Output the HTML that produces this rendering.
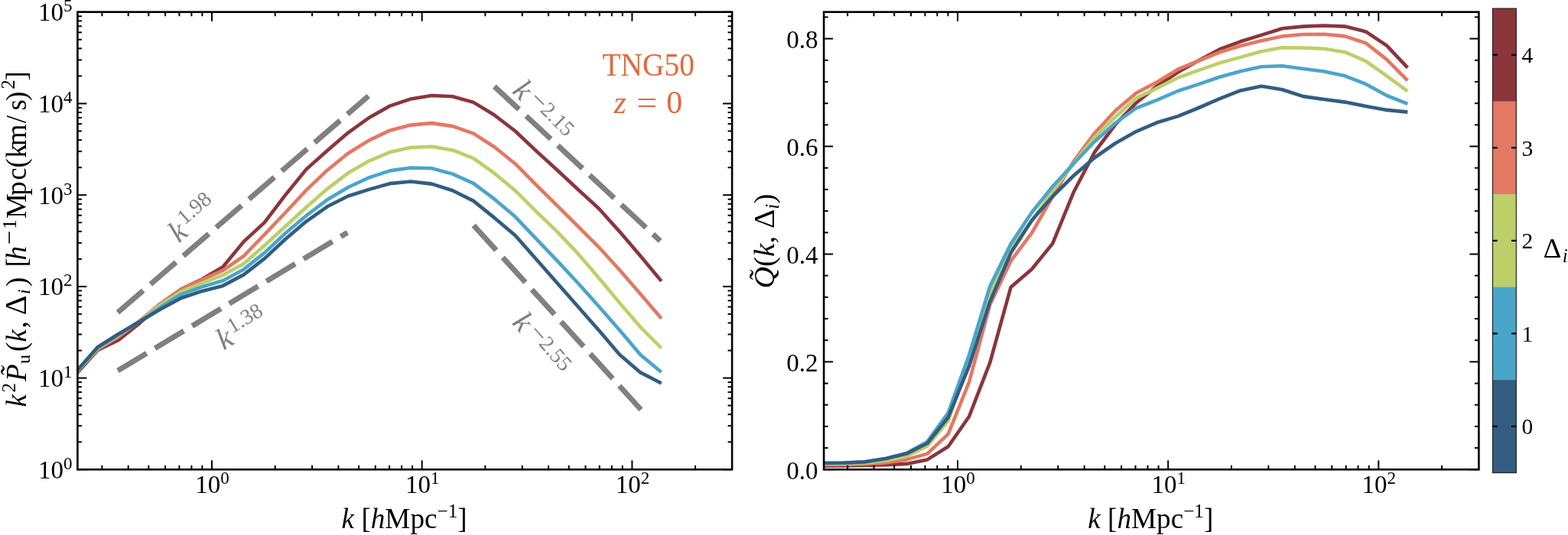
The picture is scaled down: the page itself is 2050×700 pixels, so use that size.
<!DOCTYPE html><html><head><meta charset="utf-8"><title>TNG50 velocity power spectra</title><style>html,body{margin:0;padding:0;background:#fff;}svg{display:block;}text{font-family:"Liberation Serif","DejaVu Serif",serif;}</style></head><body>
<svg width="2050" height="700" viewBox="0 0 2050 700">
<rect width="2050" height="700" fill="#fff"/>
<defs><clipPath id="cl"><rect x="101.4" y="15.7" width="855.7" height="598.6"/></clipPath>
<clipPath id="cr"><rect x="1077.1" y="15.7" width="856.3" height="598.6"/></clipPath></defs>
<g clip-path="url(#cl)">
<polyline points="100.3,488.8 127.6,458.3 154.9,445.0 182.2,423.2 209.5,397.8 236.8,378.3 264.1,365.3 291.4,349.3 318.7,316.1 346.0,290.9 373.3,254.9 400.6,221.4 427.9,197.0 455.2,173.6 482.5,154.0 509.8,138.6 537.1,129.4 564.4,125.0 591.7,126.3 619.0,133.9 646.3,150.5 673.6,171.5 700.9,197.4 728.2,222.3 755.5,247.7 782.8,272.8 810.1,303.1 837.4,335.1 864.7,367.9" fill="none" stroke="#8A363B" stroke-width="4.60" stroke-linejoin="round" stroke-linecap="butt"/>
<polyline points="100.3,487.0 127.6,457.0 154.9,440.7 182.2,420.0 209.5,397.3 236.8,378.6 264.1,365.8 291.4,353.9 318.7,335.0 346.0,306.6 373.3,278.0 400.6,248.6 427.9,222.7 455.2,200.5 482.5,183.6 509.8,170.7 537.1,163.6 564.4,161.1 591.7,165.1 619.0,174.6 646.3,192.2 673.6,214.2 700.9,241.8 728.2,268.9 755.5,296.0 782.8,323.3 810.1,353.3 837.4,384.8 864.7,416.7" fill="none" stroke="#E37863" stroke-width="4.60" stroke-linejoin="round" stroke-linecap="butt"/>
<polyline points="100.3,486.3 127.6,456.0 154.9,438.7 182.2,420.4 209.5,399.0 236.8,381.6 264.1,370.3 291.4,360.0 318.7,344.9 346.0,321.0 373.3,296.0 400.6,271.0 427.9,247.1 455.2,226.3 482.5,210.6 509.8,199.0 537.1,193.1 564.4,191.7 591.7,196.4 619.0,207.2 646.3,226.7 673.6,249.3 700.9,276.6 728.2,302.8 755.5,331.7 782.8,363.6 810.1,396.4 837.4,428.1 864.7,455.5" fill="none" stroke="#BCCF68" stroke-width="4.60" stroke-linejoin="round" stroke-linecap="butt"/>
<polyline points="100.3,485.8 127.6,455.0 154.9,437.7 182.2,420.8 209.5,402.3 236.8,385.3 264.1,375.3 291.4,367.3 318.7,352.4 346.0,330.6 373.3,305.0 400.6,282.0 427.9,261.3 455.2,245.0 482.5,232.4 509.8,223.4 537.1,219.5 564.4,220.3 591.7,227.6 619.0,239.8 646.3,260.4 673.6,283.6 700.9,312.4 728.2,340.9 755.5,370.3 782.8,400.7 810.1,432.1 837.4,464.3 864.7,487.0" fill="none" stroke="#4AA5CB" stroke-width="4.60" stroke-linejoin="round" stroke-linecap="butt"/>
<polyline points="100.3,485.3 127.6,454.3 154.9,437.0 182.2,421.0 209.5,404.7 236.8,390.0 264.1,380.9 291.4,373.9 318.7,359.4 346.0,338.1 373.3,312.7 400.6,289.6 427.9,270.3 455.2,256.5 482.5,247.9 509.8,240.1 537.1,237.5 564.4,240.6 591.7,249.3 619.0,262.9 646.3,284.9 673.6,308.1 700.9,339.1 728.2,370.1 755.5,401.0 782.8,432.1 810.1,463.9 837.4,487.4 864.7,501.5" fill="none" stroke="#325D80" stroke-width="4.60" stroke-linejoin="round" stroke-linecap="butt"/>
<line x1="153.9" y1="408.9" x2="481.7" y2="125.7" stroke="#808080" stroke-width="7.0" stroke-dasharray="44 12.7"/>
<line x1="154.0" y1="485.0" x2="454.3" y2="304.2" stroke="#808080" stroke-width="7.0" stroke-dasharray="44 12.7"/>
<line x1="646.4" y1="113.1" x2="863.2" y2="315.2" stroke="#808080" stroke-width="7.0" stroke-dasharray="44 12.7"/>
<line x1="619.2" y1="294.8" x2="838.0" y2="536.0" stroke="#808080" stroke-width="7.0" stroke-dasharray="44 12.7"/>
</g>
<g clip-path="url(#cr)">
<polyline points="1075.9,609.6 1103.2,609.5 1130.5,609.0 1157.8,608.3 1185.1,606.9 1212.4,601.4 1239.7,584.3 1267.0,545.0 1294.3,474.3 1321.6,375.7 1348.9,352.3 1376.2,318.6 1403.5,251.8 1430.8,199.5 1458.1,163.0 1485.4,134.7 1512.7,112.5 1540.0,94.5 1567.3,79.0 1594.6,64.5 1621.9,54.3 1649.2,45.9 1676.5,37.2 1703.8,34.6 1731.1,33.5 1758.4,34.6 1785.7,41.4 1813.0,59.6 1840.3,88.6" fill="none" stroke="#8A363B" stroke-width="4.60" stroke-linejoin="round" stroke-linecap="butt"/>
<polyline points="1075.9,608.3 1103.2,608.0 1130.5,607.3 1157.8,605.6 1185.1,601.4 1212.4,593.6 1239.7,567.9 1267.0,500.0 1294.3,398.6 1321.6,341.4 1348.9,305.0 1376.2,257.0 1403.5,211.4 1430.8,174.5 1458.1,145.0 1485.4,121.8 1512.7,107.4 1540.0,90.7 1567.3,79.5 1594.6,68.3 1621.9,60.0 1649.2,53.2 1676.5,47.5 1703.8,45.0 1731.1,44.8 1758.4,47.4 1785.7,56.4 1813.0,77.9 1840.3,105.3" fill="none" stroke="#E37863" stroke-width="4.60" stroke-linejoin="round" stroke-linecap="butt"/>
<polyline points="1075.9,607.2 1103.2,606.8 1130.5,605.7 1157.8,602.8 1185.1,597.1 1212.4,583.6 1239.7,550.7 1267.0,472.0 1294.3,384.0 1321.6,325.0 1348.9,289.0 1376.2,249.5 1403.5,214.0 1430.8,180.0 1458.1,153.0 1485.4,128.4 1512.7,115.4 1540.0,101.6 1567.3,91.8 1594.6,82.4 1621.9,74.9 1649.2,67.3 1676.5,62.3 1703.8,62.6 1731.1,63.8 1758.4,68.2 1785.7,80.0 1813.0,99.3 1840.3,119.4" fill="none" stroke="#BCCF68" stroke-width="4.60" stroke-linejoin="round" stroke-linecap="butt"/>
<polyline points="1075.9,606.1 1103.2,605.8 1130.5,604.6 1157.8,600.3 1185.1,593.0 1212.4,577.9 1239.7,540.0 1267.0,464.5 1294.3,374.5 1321.6,319.0 1348.9,278.0 1376.2,244.0 1403.5,214.3 1430.8,185.5 1458.1,161.0 1485.4,141.5 1512.7,130.8 1540.0,119.0 1567.3,110.1 1594.6,100.8 1621.9,93.2 1649.2,87.3 1676.5,86.3 1703.8,90.0 1731.1,93.5 1758.4,99.3 1785.7,110.0 1813.0,125.0 1840.3,135.8" fill="none" stroke="#4AA5CB" stroke-width="4.60" stroke-linejoin="round" stroke-linecap="butt"/>
<polyline points="1075.9,605.7 1103.2,605.5 1130.5,604.2 1157.8,600.0 1185.1,593.6 1212.4,580.0 1239.7,546.0 1267.0,479.0 1294.3,394.6 1321.6,330.8 1348.9,288.5 1376.2,257.0 1403.5,230.0 1430.8,206.5 1458.1,187.5 1485.4,172.1 1512.7,160.3 1540.0,152.1 1567.3,141.0 1594.6,129.2 1621.9,118.4 1649.2,112.8 1676.5,117.2 1703.8,126.1 1731.1,130.0 1758.4,133.6 1785.7,138.9 1813.0,143.9 1840.3,146.6" fill="none" stroke="#325D80" stroke-width="4.60" stroke-linejoin="round" stroke-linecap="butt"/>
</g>
<line x1="133.4" y1="614.3" x2="133.4" y2="608.8" stroke="#000" stroke-width="2.0"/>
<line x1="133.4" y1="15.7" x2="133.4" y2="21.2" stroke="#000" stroke-width="2.0"/>
<line x1="167.7" y1="614.3" x2="167.7" y2="608.8" stroke="#000" stroke-width="2.0"/>
<line x1="167.7" y1="15.7" x2="167.7" y2="21.2" stroke="#000" stroke-width="2.0"/>
<line x1="194.3" y1="614.3" x2="194.3" y2="608.8" stroke="#000" stroke-width="2.0"/>
<line x1="194.3" y1="15.7" x2="194.3" y2="21.2" stroke="#000" stroke-width="2.0"/>
<line x1="216.1" y1="614.3" x2="216.1" y2="608.8" stroke="#000" stroke-width="2.0"/>
<line x1="216.1" y1="15.7" x2="216.1" y2="21.2" stroke="#000" stroke-width="2.0"/>
<line x1="234.4" y1="614.3" x2="234.4" y2="608.8" stroke="#000" stroke-width="2.0"/>
<line x1="234.4" y1="15.7" x2="234.4" y2="21.2" stroke="#000" stroke-width="2.0"/>
<line x1="250.4" y1="614.3" x2="250.4" y2="608.8" stroke="#000" stroke-width="2.0"/>
<line x1="250.4" y1="15.7" x2="250.4" y2="21.2" stroke="#000" stroke-width="2.0"/>
<line x1="264.4" y1="614.3" x2="264.4" y2="608.8" stroke="#000" stroke-width="2.0"/>
<line x1="264.4" y1="15.7" x2="264.4" y2="21.2" stroke="#000" stroke-width="2.0"/>
<line x1="277.0" y1="614.3" x2="277.0" y2="602.3" stroke="#000" stroke-width="2.0"/>
<line x1="277.0" y1="15.7" x2="277.0" y2="27.7" stroke="#000" stroke-width="2.0"/>
<line x1="359.7" y1="614.3" x2="359.7" y2="608.8" stroke="#000" stroke-width="2.0"/>
<line x1="359.7" y1="15.7" x2="359.7" y2="21.2" stroke="#000" stroke-width="2.0"/>
<line x1="408.1" y1="614.3" x2="408.1" y2="608.8" stroke="#000" stroke-width="2.0"/>
<line x1="408.1" y1="15.7" x2="408.1" y2="21.2" stroke="#000" stroke-width="2.0"/>
<line x1="442.4" y1="614.3" x2="442.4" y2="608.8" stroke="#000" stroke-width="2.0"/>
<line x1="442.4" y1="15.7" x2="442.4" y2="21.2" stroke="#000" stroke-width="2.0"/>
<line x1="469.0" y1="614.3" x2="469.0" y2="608.8" stroke="#000" stroke-width="2.0"/>
<line x1="469.0" y1="15.7" x2="469.0" y2="21.2" stroke="#000" stroke-width="2.0"/>
<line x1="490.8" y1="614.3" x2="490.8" y2="608.8" stroke="#000" stroke-width="2.0"/>
<line x1="490.8" y1="15.7" x2="490.8" y2="21.2" stroke="#000" stroke-width="2.0"/>
<line x1="509.1" y1="614.3" x2="509.1" y2="608.8" stroke="#000" stroke-width="2.0"/>
<line x1="509.1" y1="15.7" x2="509.1" y2="21.2" stroke="#000" stroke-width="2.0"/>
<line x1="525.1" y1="614.3" x2="525.1" y2="608.8" stroke="#000" stroke-width="2.0"/>
<line x1="525.1" y1="15.7" x2="525.1" y2="21.2" stroke="#000" stroke-width="2.0"/>
<line x1="539.1" y1="614.3" x2="539.1" y2="608.8" stroke="#000" stroke-width="2.0"/>
<line x1="539.1" y1="15.7" x2="539.1" y2="21.2" stroke="#000" stroke-width="2.0"/>
<line x1="551.7" y1="614.3" x2="551.7" y2="602.3" stroke="#000" stroke-width="2.0"/>
<line x1="551.7" y1="15.7" x2="551.7" y2="27.7" stroke="#000" stroke-width="2.0"/>
<line x1="634.4" y1="614.3" x2="634.4" y2="608.8" stroke="#000" stroke-width="2.0"/>
<line x1="634.4" y1="15.7" x2="634.4" y2="21.2" stroke="#000" stroke-width="2.0"/>
<line x1="682.8" y1="614.3" x2="682.8" y2="608.8" stroke="#000" stroke-width="2.0"/>
<line x1="682.8" y1="15.7" x2="682.8" y2="21.2" stroke="#000" stroke-width="2.0"/>
<line x1="717.1" y1="614.3" x2="717.1" y2="608.8" stroke="#000" stroke-width="2.0"/>
<line x1="717.1" y1="15.7" x2="717.1" y2="21.2" stroke="#000" stroke-width="2.0"/>
<line x1="743.7" y1="614.3" x2="743.7" y2="608.8" stroke="#000" stroke-width="2.0"/>
<line x1="743.7" y1="15.7" x2="743.7" y2="21.2" stroke="#000" stroke-width="2.0"/>
<line x1="765.5" y1="614.3" x2="765.5" y2="608.8" stroke="#000" stroke-width="2.0"/>
<line x1="765.5" y1="15.7" x2="765.5" y2="21.2" stroke="#000" stroke-width="2.0"/>
<line x1="783.8" y1="614.3" x2="783.8" y2="608.8" stroke="#000" stroke-width="2.0"/>
<line x1="783.8" y1="15.7" x2="783.8" y2="21.2" stroke="#000" stroke-width="2.0"/>
<line x1="799.8" y1="614.3" x2="799.8" y2="608.8" stroke="#000" stroke-width="2.0"/>
<line x1="799.8" y1="15.7" x2="799.8" y2="21.2" stroke="#000" stroke-width="2.0"/>
<line x1="813.8" y1="614.3" x2="813.8" y2="608.8" stroke="#000" stroke-width="2.0"/>
<line x1="813.8" y1="15.7" x2="813.8" y2="21.2" stroke="#000" stroke-width="2.0"/>
<line x1="826.4" y1="614.3" x2="826.4" y2="602.3" stroke="#000" stroke-width="2.0"/>
<line x1="826.4" y1="15.7" x2="826.4" y2="27.7" stroke="#000" stroke-width="2.0"/>
<line x1="909.1" y1="614.3" x2="909.1" y2="608.8" stroke="#000" stroke-width="2.0"/>
<line x1="909.1" y1="15.7" x2="909.1" y2="21.2" stroke="#000" stroke-width="2.0"/>
<line x1="101.4" y1="614.3" x2="113.4" y2="614.3" stroke="#000" stroke-width="2.0"/>
<line x1="957.1" y1="614.3" x2="945.1" y2="614.3" stroke="#000" stroke-width="2.0"/>
<line x1="101.4" y1="578.3" x2="106.9" y2="578.3" stroke="#000" stroke-width="2.0"/>
<line x1="957.1" y1="578.3" x2="951.6" y2="578.3" stroke="#000" stroke-width="2.0"/>
<line x1="101.4" y1="557.2" x2="106.9" y2="557.2" stroke="#000" stroke-width="2.0"/>
<line x1="957.1" y1="557.2" x2="951.6" y2="557.2" stroke="#000" stroke-width="2.0"/>
<line x1="101.4" y1="542.2" x2="106.9" y2="542.2" stroke="#000" stroke-width="2.0"/>
<line x1="957.1" y1="542.2" x2="951.6" y2="542.2" stroke="#000" stroke-width="2.0"/>
<line x1="101.4" y1="530.6" x2="106.9" y2="530.6" stroke="#000" stroke-width="2.0"/>
<line x1="957.1" y1="530.6" x2="951.6" y2="530.6" stroke="#000" stroke-width="2.0"/>
<line x1="101.4" y1="521.2" x2="106.9" y2="521.2" stroke="#000" stroke-width="2.0"/>
<line x1="957.1" y1="521.2" x2="951.6" y2="521.2" stroke="#000" stroke-width="2.0"/>
<line x1="101.4" y1="513.1" x2="106.9" y2="513.1" stroke="#000" stroke-width="2.0"/>
<line x1="957.1" y1="513.1" x2="951.6" y2="513.1" stroke="#000" stroke-width="2.0"/>
<line x1="101.4" y1="506.2" x2="106.9" y2="506.2" stroke="#000" stroke-width="2.0"/>
<line x1="957.1" y1="506.2" x2="951.6" y2="506.2" stroke="#000" stroke-width="2.0"/>
<line x1="101.4" y1="500.1" x2="106.9" y2="500.1" stroke="#000" stroke-width="2.0"/>
<line x1="957.1" y1="500.1" x2="951.6" y2="500.1" stroke="#000" stroke-width="2.0"/>
<line x1="101.4" y1="494.6" x2="113.4" y2="494.6" stroke="#000" stroke-width="2.0"/>
<line x1="957.1" y1="494.6" x2="945.1" y2="494.6" stroke="#000" stroke-width="2.0"/>
<line x1="101.4" y1="458.6" x2="106.9" y2="458.6" stroke="#000" stroke-width="2.0"/>
<line x1="957.1" y1="458.6" x2="951.6" y2="458.6" stroke="#000" stroke-width="2.0"/>
<line x1="101.4" y1="437.5" x2="106.9" y2="437.5" stroke="#000" stroke-width="2.0"/>
<line x1="957.1" y1="437.5" x2="951.6" y2="437.5" stroke="#000" stroke-width="2.0"/>
<line x1="101.4" y1="422.5" x2="106.9" y2="422.5" stroke="#000" stroke-width="2.0"/>
<line x1="957.1" y1="422.5" x2="951.6" y2="422.5" stroke="#000" stroke-width="2.0"/>
<line x1="101.4" y1="410.9" x2="106.9" y2="410.9" stroke="#000" stroke-width="2.0"/>
<line x1="957.1" y1="410.9" x2="951.6" y2="410.9" stroke="#000" stroke-width="2.0"/>
<line x1="101.4" y1="401.5" x2="106.9" y2="401.5" stroke="#000" stroke-width="2.0"/>
<line x1="957.1" y1="401.5" x2="951.6" y2="401.5" stroke="#000" stroke-width="2.0"/>
<line x1="101.4" y1="393.4" x2="106.9" y2="393.4" stroke="#000" stroke-width="2.0"/>
<line x1="957.1" y1="393.4" x2="951.6" y2="393.4" stroke="#000" stroke-width="2.0"/>
<line x1="101.4" y1="386.5" x2="106.9" y2="386.5" stroke="#000" stroke-width="2.0"/>
<line x1="957.1" y1="386.5" x2="951.6" y2="386.5" stroke="#000" stroke-width="2.0"/>
<line x1="101.4" y1="380.4" x2="106.9" y2="380.4" stroke="#000" stroke-width="2.0"/>
<line x1="957.1" y1="380.4" x2="951.6" y2="380.4" stroke="#000" stroke-width="2.0"/>
<line x1="101.4" y1="374.9" x2="113.4" y2="374.9" stroke="#000" stroke-width="2.0"/>
<line x1="957.1" y1="374.9" x2="945.1" y2="374.9" stroke="#000" stroke-width="2.0"/>
<line x1="101.4" y1="338.9" x2="106.9" y2="338.9" stroke="#000" stroke-width="2.0"/>
<line x1="957.1" y1="338.9" x2="951.6" y2="338.9" stroke="#000" stroke-width="2.0"/>
<line x1="101.4" y1="317.8" x2="106.9" y2="317.8" stroke="#000" stroke-width="2.0"/>
<line x1="957.1" y1="317.8" x2="951.6" y2="317.8" stroke="#000" stroke-width="2.0"/>
<line x1="101.4" y1="302.8" x2="106.9" y2="302.8" stroke="#000" stroke-width="2.0"/>
<line x1="957.1" y1="302.8" x2="951.6" y2="302.8" stroke="#000" stroke-width="2.0"/>
<line x1="101.4" y1="291.2" x2="106.9" y2="291.2" stroke="#000" stroke-width="2.0"/>
<line x1="957.1" y1="291.2" x2="951.6" y2="291.2" stroke="#000" stroke-width="2.0"/>
<line x1="101.4" y1="281.8" x2="106.9" y2="281.8" stroke="#000" stroke-width="2.0"/>
<line x1="957.1" y1="281.8" x2="951.6" y2="281.8" stroke="#000" stroke-width="2.0"/>
<line x1="101.4" y1="273.7" x2="106.9" y2="273.7" stroke="#000" stroke-width="2.0"/>
<line x1="957.1" y1="273.7" x2="951.6" y2="273.7" stroke="#000" stroke-width="2.0"/>
<line x1="101.4" y1="266.8" x2="106.9" y2="266.8" stroke="#000" stroke-width="2.0"/>
<line x1="957.1" y1="266.8" x2="951.6" y2="266.8" stroke="#000" stroke-width="2.0"/>
<line x1="101.4" y1="260.7" x2="106.9" y2="260.7" stroke="#000" stroke-width="2.0"/>
<line x1="957.1" y1="260.7" x2="951.6" y2="260.7" stroke="#000" stroke-width="2.0"/>
<line x1="101.4" y1="255.2" x2="113.4" y2="255.2" stroke="#000" stroke-width="2.0"/>
<line x1="957.1" y1="255.2" x2="945.1" y2="255.2" stroke="#000" stroke-width="2.0"/>
<line x1="101.4" y1="219.2" x2="106.9" y2="219.2" stroke="#000" stroke-width="2.0"/>
<line x1="957.1" y1="219.2" x2="951.6" y2="219.2" stroke="#000" stroke-width="2.0"/>
<line x1="101.4" y1="198.1" x2="106.9" y2="198.1" stroke="#000" stroke-width="2.0"/>
<line x1="957.1" y1="198.1" x2="951.6" y2="198.1" stroke="#000" stroke-width="2.0"/>
<line x1="101.4" y1="183.1" x2="106.9" y2="183.1" stroke="#000" stroke-width="2.0"/>
<line x1="957.1" y1="183.1" x2="951.6" y2="183.1" stroke="#000" stroke-width="2.0"/>
<line x1="101.4" y1="171.5" x2="106.9" y2="171.5" stroke="#000" stroke-width="2.0"/>
<line x1="957.1" y1="171.5" x2="951.6" y2="171.5" stroke="#000" stroke-width="2.0"/>
<line x1="101.4" y1="162.1" x2="106.9" y2="162.1" stroke="#000" stroke-width="2.0"/>
<line x1="957.1" y1="162.1" x2="951.6" y2="162.1" stroke="#000" stroke-width="2.0"/>
<line x1="101.4" y1="154.0" x2="106.9" y2="154.0" stroke="#000" stroke-width="2.0"/>
<line x1="957.1" y1="154.0" x2="951.6" y2="154.0" stroke="#000" stroke-width="2.0"/>
<line x1="101.4" y1="147.1" x2="106.9" y2="147.1" stroke="#000" stroke-width="2.0"/>
<line x1="957.1" y1="147.1" x2="951.6" y2="147.1" stroke="#000" stroke-width="2.0"/>
<line x1="101.4" y1="141.0" x2="106.9" y2="141.0" stroke="#000" stroke-width="2.0"/>
<line x1="957.1" y1="141.0" x2="951.6" y2="141.0" stroke="#000" stroke-width="2.0"/>
<line x1="101.4" y1="135.5" x2="113.4" y2="135.5" stroke="#000" stroke-width="2.0"/>
<line x1="957.1" y1="135.5" x2="945.1" y2="135.5" stroke="#000" stroke-width="2.0"/>
<line x1="101.4" y1="99.5" x2="106.9" y2="99.5" stroke="#000" stroke-width="2.0"/>
<line x1="957.1" y1="99.5" x2="951.6" y2="99.5" stroke="#000" stroke-width="2.0"/>
<line x1="101.4" y1="78.4" x2="106.9" y2="78.4" stroke="#000" stroke-width="2.0"/>
<line x1="957.1" y1="78.4" x2="951.6" y2="78.4" stroke="#000" stroke-width="2.0"/>
<line x1="101.4" y1="63.4" x2="106.9" y2="63.4" stroke="#000" stroke-width="2.0"/>
<line x1="957.1" y1="63.4" x2="951.6" y2="63.4" stroke="#000" stroke-width="2.0"/>
<line x1="101.4" y1="51.8" x2="106.9" y2="51.8" stroke="#000" stroke-width="2.0"/>
<line x1="957.1" y1="51.8" x2="951.6" y2="51.8" stroke="#000" stroke-width="2.0"/>
<line x1="101.4" y1="42.4" x2="106.9" y2="42.4" stroke="#000" stroke-width="2.0"/>
<line x1="957.1" y1="42.4" x2="951.6" y2="42.4" stroke="#000" stroke-width="2.0"/>
<line x1="101.4" y1="34.3" x2="106.9" y2="34.3" stroke="#000" stroke-width="2.0"/>
<line x1="957.1" y1="34.3" x2="951.6" y2="34.3" stroke="#000" stroke-width="2.0"/>
<line x1="101.4" y1="27.4" x2="106.9" y2="27.4" stroke="#000" stroke-width="2.0"/>
<line x1="957.1" y1="27.4" x2="951.6" y2="27.4" stroke="#000" stroke-width="2.0"/>
<line x1="101.4" y1="21.3" x2="106.9" y2="21.3" stroke="#000" stroke-width="2.0"/>
<line x1="957.1" y1="21.3" x2="951.6" y2="21.3" stroke="#000" stroke-width="2.0"/>
<line x1="101.4" y1="15.8" x2="113.4" y2="15.8" stroke="#000" stroke-width="2.0"/>
<line x1="957.1" y1="15.8" x2="945.1" y2="15.8" stroke="#000" stroke-width="2.0"/>
<line x1="1108.1" y1="614.3" x2="1108.1" y2="608.8" stroke="#000" stroke-width="2.0"/>
<line x1="1108.1" y1="15.7" x2="1108.1" y2="21.2" stroke="#000" stroke-width="2.0"/>
<line x1="1142.5" y1="614.3" x2="1142.5" y2="608.8" stroke="#000" stroke-width="2.0"/>
<line x1="1142.5" y1="15.7" x2="1142.5" y2="21.2" stroke="#000" stroke-width="2.0"/>
<line x1="1169.2" y1="614.3" x2="1169.2" y2="608.8" stroke="#000" stroke-width="2.0"/>
<line x1="1169.2" y1="15.7" x2="1169.2" y2="21.2" stroke="#000" stroke-width="2.0"/>
<line x1="1191.0" y1="614.3" x2="1191.0" y2="608.8" stroke="#000" stroke-width="2.0"/>
<line x1="1191.0" y1="15.7" x2="1191.0" y2="21.2" stroke="#000" stroke-width="2.0"/>
<line x1="1209.4" y1="614.3" x2="1209.4" y2="608.8" stroke="#000" stroke-width="2.0"/>
<line x1="1209.4" y1="15.7" x2="1209.4" y2="21.2" stroke="#000" stroke-width="2.0"/>
<line x1="1225.3" y1="614.3" x2="1225.3" y2="608.8" stroke="#000" stroke-width="2.0"/>
<line x1="1225.3" y1="15.7" x2="1225.3" y2="21.2" stroke="#000" stroke-width="2.0"/>
<line x1="1239.4" y1="614.3" x2="1239.4" y2="608.8" stroke="#000" stroke-width="2.0"/>
<line x1="1239.4" y1="15.7" x2="1239.4" y2="21.2" stroke="#000" stroke-width="2.0"/>
<line x1="1252.0" y1="614.3" x2="1252.0" y2="602.3" stroke="#000" stroke-width="2.0"/>
<line x1="1252.0" y1="15.7" x2="1252.0" y2="27.7" stroke="#000" stroke-width="2.0"/>
<line x1="1334.8" y1="614.3" x2="1334.8" y2="608.8" stroke="#000" stroke-width="2.0"/>
<line x1="1334.8" y1="15.7" x2="1334.8" y2="21.2" stroke="#000" stroke-width="2.0"/>
<line x1="1383.3" y1="614.3" x2="1383.3" y2="608.8" stroke="#000" stroke-width="2.0"/>
<line x1="1383.3" y1="15.7" x2="1383.3" y2="21.2" stroke="#000" stroke-width="2.0"/>
<line x1="1417.7" y1="614.3" x2="1417.7" y2="608.8" stroke="#000" stroke-width="2.0"/>
<line x1="1417.7" y1="15.7" x2="1417.7" y2="21.2" stroke="#000" stroke-width="2.0"/>
<line x1="1444.3" y1="614.3" x2="1444.3" y2="608.8" stroke="#000" stroke-width="2.0"/>
<line x1="1444.3" y1="15.7" x2="1444.3" y2="21.2" stroke="#000" stroke-width="2.0"/>
<line x1="1466.1" y1="614.3" x2="1466.1" y2="608.8" stroke="#000" stroke-width="2.0"/>
<line x1="1466.1" y1="15.7" x2="1466.1" y2="21.2" stroke="#000" stroke-width="2.0"/>
<line x1="1484.5" y1="614.3" x2="1484.5" y2="608.8" stroke="#000" stroke-width="2.0"/>
<line x1="1484.5" y1="15.7" x2="1484.5" y2="21.2" stroke="#000" stroke-width="2.0"/>
<line x1="1500.5" y1="614.3" x2="1500.5" y2="608.8" stroke="#000" stroke-width="2.0"/>
<line x1="1500.5" y1="15.7" x2="1500.5" y2="21.2" stroke="#000" stroke-width="2.0"/>
<line x1="1514.6" y1="614.3" x2="1514.6" y2="608.8" stroke="#000" stroke-width="2.0"/>
<line x1="1514.6" y1="15.7" x2="1514.6" y2="21.2" stroke="#000" stroke-width="2.0"/>
<line x1="1527.2" y1="614.3" x2="1527.2" y2="602.3" stroke="#000" stroke-width="2.0"/>
<line x1="1527.2" y1="15.7" x2="1527.2" y2="27.7" stroke="#000" stroke-width="2.0"/>
<line x1="1610.0" y1="614.3" x2="1610.0" y2="608.8" stroke="#000" stroke-width="2.0"/>
<line x1="1610.0" y1="15.7" x2="1610.0" y2="21.2" stroke="#000" stroke-width="2.0"/>
<line x1="1658.4" y1="614.3" x2="1658.4" y2="608.8" stroke="#000" stroke-width="2.0"/>
<line x1="1658.4" y1="15.7" x2="1658.4" y2="21.2" stroke="#000" stroke-width="2.0"/>
<line x1="1692.8" y1="614.3" x2="1692.8" y2="608.8" stroke="#000" stroke-width="2.0"/>
<line x1="1692.8" y1="15.7" x2="1692.8" y2="21.2" stroke="#000" stroke-width="2.0"/>
<line x1="1719.5" y1="614.3" x2="1719.5" y2="608.8" stroke="#000" stroke-width="2.0"/>
<line x1="1719.5" y1="15.7" x2="1719.5" y2="21.2" stroke="#000" stroke-width="2.0"/>
<line x1="1741.3" y1="614.3" x2="1741.3" y2="608.8" stroke="#000" stroke-width="2.0"/>
<line x1="1741.3" y1="15.7" x2="1741.3" y2="21.2" stroke="#000" stroke-width="2.0"/>
<line x1="1759.7" y1="614.3" x2="1759.7" y2="608.8" stroke="#000" stroke-width="2.0"/>
<line x1="1759.7" y1="15.7" x2="1759.7" y2="21.2" stroke="#000" stroke-width="2.0"/>
<line x1="1775.6" y1="614.3" x2="1775.6" y2="608.8" stroke="#000" stroke-width="2.0"/>
<line x1="1775.6" y1="15.7" x2="1775.6" y2="21.2" stroke="#000" stroke-width="2.0"/>
<line x1="1789.7" y1="614.3" x2="1789.7" y2="608.8" stroke="#000" stroke-width="2.0"/>
<line x1="1789.7" y1="15.7" x2="1789.7" y2="21.2" stroke="#000" stroke-width="2.0"/>
<line x1="1802.3" y1="614.3" x2="1802.3" y2="602.3" stroke="#000" stroke-width="2.0"/>
<line x1="1802.3" y1="15.7" x2="1802.3" y2="27.7" stroke="#000" stroke-width="2.0"/>
<line x1="1885.1" y1="614.3" x2="1885.1" y2="608.8" stroke="#000" stroke-width="2.0"/>
<line x1="1885.1" y1="15.7" x2="1885.1" y2="21.2" stroke="#000" stroke-width="2.0"/>
<line x1="1077.1" y1="614.3" x2="1089.1" y2="614.3" stroke="#000" stroke-width="2.0"/>
<line x1="1933.4" y1="614.3" x2="1921.4" y2="614.3" stroke="#000" stroke-width="2.0"/>
<line x1="1077.1" y1="586.1" x2="1082.6" y2="586.1" stroke="#000" stroke-width="2.0"/>
<line x1="1933.4" y1="586.1" x2="1927.9" y2="586.1" stroke="#000" stroke-width="2.0"/>
<line x1="1077.1" y1="557.9" x2="1082.6" y2="557.9" stroke="#000" stroke-width="2.0"/>
<line x1="1933.4" y1="557.9" x2="1927.9" y2="557.9" stroke="#000" stroke-width="2.0"/>
<line x1="1077.1" y1="529.7" x2="1082.6" y2="529.7" stroke="#000" stroke-width="2.0"/>
<line x1="1933.4" y1="529.7" x2="1927.9" y2="529.7" stroke="#000" stroke-width="2.0"/>
<line x1="1077.1" y1="501.6" x2="1082.6" y2="501.6" stroke="#000" stroke-width="2.0"/>
<line x1="1933.4" y1="501.6" x2="1927.9" y2="501.6" stroke="#000" stroke-width="2.0"/>
<line x1="1077.1" y1="473.4" x2="1089.1" y2="473.4" stroke="#000" stroke-width="2.0"/>
<line x1="1933.4" y1="473.4" x2="1921.4" y2="473.4" stroke="#000" stroke-width="2.0"/>
<line x1="1077.1" y1="445.2" x2="1082.6" y2="445.2" stroke="#000" stroke-width="2.0"/>
<line x1="1933.4" y1="445.2" x2="1927.9" y2="445.2" stroke="#000" stroke-width="2.0"/>
<line x1="1077.1" y1="417.0" x2="1082.6" y2="417.0" stroke="#000" stroke-width="2.0"/>
<line x1="1933.4" y1="417.0" x2="1927.9" y2="417.0" stroke="#000" stroke-width="2.0"/>
<line x1="1077.1" y1="388.8" x2="1082.6" y2="388.8" stroke="#000" stroke-width="2.0"/>
<line x1="1933.4" y1="388.8" x2="1927.9" y2="388.8" stroke="#000" stroke-width="2.0"/>
<line x1="1077.1" y1="360.6" x2="1082.6" y2="360.6" stroke="#000" stroke-width="2.0"/>
<line x1="1933.4" y1="360.6" x2="1927.9" y2="360.6" stroke="#000" stroke-width="2.0"/>
<line x1="1077.1" y1="332.5" x2="1089.1" y2="332.5" stroke="#000" stroke-width="2.0"/>
<line x1="1933.4" y1="332.5" x2="1921.4" y2="332.5" stroke="#000" stroke-width="2.0"/>
<line x1="1077.1" y1="304.3" x2="1082.6" y2="304.3" stroke="#000" stroke-width="2.0"/>
<line x1="1933.4" y1="304.3" x2="1927.9" y2="304.3" stroke="#000" stroke-width="2.0"/>
<line x1="1077.1" y1="276.1" x2="1082.6" y2="276.1" stroke="#000" stroke-width="2.0"/>
<line x1="1933.4" y1="276.1" x2="1927.9" y2="276.1" stroke="#000" stroke-width="2.0"/>
<line x1="1077.1" y1="247.9" x2="1082.6" y2="247.9" stroke="#000" stroke-width="2.0"/>
<line x1="1933.4" y1="247.9" x2="1927.9" y2="247.9" stroke="#000" stroke-width="2.0"/>
<line x1="1077.1" y1="219.7" x2="1082.6" y2="219.7" stroke="#000" stroke-width="2.0"/>
<line x1="1933.4" y1="219.7" x2="1927.9" y2="219.7" stroke="#000" stroke-width="2.0"/>
<line x1="1077.1" y1="191.5" x2="1089.1" y2="191.5" stroke="#000" stroke-width="2.0"/>
<line x1="1933.4" y1="191.5" x2="1921.4" y2="191.5" stroke="#000" stroke-width="2.0"/>
<line x1="1077.1" y1="163.4" x2="1082.6" y2="163.4" stroke="#000" stroke-width="2.0"/>
<line x1="1933.4" y1="163.4" x2="1927.9" y2="163.4" stroke="#000" stroke-width="2.0"/>
<line x1="1077.1" y1="135.2" x2="1082.6" y2="135.2" stroke="#000" stroke-width="2.0"/>
<line x1="1933.4" y1="135.2" x2="1927.9" y2="135.2" stroke="#000" stroke-width="2.0"/>
<line x1="1077.1" y1="107.0" x2="1082.6" y2="107.0" stroke="#000" stroke-width="2.0"/>
<line x1="1933.4" y1="107.0" x2="1927.9" y2="107.0" stroke="#000" stroke-width="2.0"/>
<line x1="1077.1" y1="78.8" x2="1082.6" y2="78.8" stroke="#000" stroke-width="2.0"/>
<line x1="1933.4" y1="78.8" x2="1927.9" y2="78.8" stroke="#000" stroke-width="2.0"/>
<line x1="1077.1" y1="50.6" x2="1089.1" y2="50.6" stroke="#000" stroke-width="2.0"/>
<line x1="1933.4" y1="50.6" x2="1921.4" y2="50.6" stroke="#000" stroke-width="2.0"/>
<line x1="1077.1" y1="22.4" x2="1082.6" y2="22.4" stroke="#000" stroke-width="2.0"/>
<line x1="1933.4" y1="22.4" x2="1927.9" y2="22.4" stroke="#000" stroke-width="2.0"/>
<rect x="101.4" y="15.7" width="855.7" height="598.6" fill="none" stroke="#000" stroke-width="2.6"/>
<rect x="1077.1" y="15.7" width="856.3" height="598.6" fill="none" stroke="#000" stroke-width="2.6"/>
<rect x="1951.5" y="11.10" width="30.8" height="121.80" fill="#8A363B"/>
<rect x="1951.5" y="132.60" width="30.8" height="121.80" fill="#E37863"/>
<rect x="1951.5" y="254.10" width="30.8" height="121.80" fill="#BCCF68"/>
<rect x="1951.5" y="375.60" width="30.8" height="121.80" fill="#4AA5CB"/>
<rect x="1951.5" y="497.10" width="30.8" height="121.80" fill="#325D80"/>
<rect x="1951.5" y="11.1" width="30.8" height="607.5" fill="none" stroke="#222" stroke-width="1.2"/>
<line x1="1951.5" y1="71.8" x2="1957.7" y2="71.8" stroke="#000" stroke-width="2.2"/>
<line x1="1982.3" y1="71.8" x2="1976.1" y2="71.8" stroke="#000" stroke-width="2.2"/>
<text x="1989.5" y="82.0" font-size="29.5">4</text>
<line x1="1951.5" y1="193.3" x2="1957.7" y2="193.3" stroke="#000" stroke-width="2.2"/>
<line x1="1982.3" y1="193.3" x2="1976.1" y2="193.3" stroke="#000" stroke-width="2.2"/>
<text x="1989.5" y="203.5" font-size="29.5">3</text>
<line x1="1951.5" y1="314.9" x2="1957.7" y2="314.9" stroke="#000" stroke-width="2.2"/>
<line x1="1982.3" y1="314.9" x2="1976.1" y2="314.9" stroke="#000" stroke-width="2.2"/>
<text x="1989.5" y="325.1" font-size="29.5">2</text>
<line x1="1951.5" y1="436.4" x2="1957.7" y2="436.4" stroke="#000" stroke-width="2.2"/>
<line x1="1982.3" y1="436.4" x2="1976.1" y2="436.4" stroke="#000" stroke-width="2.2"/>
<text x="1989.5" y="446.6" font-size="29.5">1</text>
<line x1="1951.5" y1="557.9" x2="1957.7" y2="557.9" stroke="#000" stroke-width="2.2"/>
<line x1="1982.3" y1="557.9" x2="1976.1" y2="557.9" stroke="#000" stroke-width="2.2"/>
<text x="1989.5" y="568.1" font-size="29.5">0</text>
<text x="2017.8" y="337.2" font-size="35" textLength="23.5" lengthAdjust="spacingAndGlyphs">Δ</text>
<text x="2042.8" y="342.5" font-size="25" font-style="italic">i</text>
<text x="94.5" y="625.8" font-size="33.0" text-anchor="end">10<tspan font-size="23.0" dy="-12">0</tspan></text>
<text x="94.5" y="506.1" font-size="33.0" text-anchor="end">10<tspan font-size="23.0" dy="-12">1</tspan></text>
<text x="94.5" y="386.4" font-size="33.0" text-anchor="end">10<tspan font-size="23.0" dy="-12">2</tspan></text>
<text x="94.5" y="266.7" font-size="33.0" text-anchor="end">10<tspan font-size="23.0" dy="-12">3</tspan></text>
<text x="94.5" y="147.0" font-size="33.0" text-anchor="end">10<tspan font-size="23.0" dy="-12">4</tspan></text>
<text x="94.5" y="27.3" font-size="33.0" text-anchor="end">10<tspan font-size="23.0" dy="-12">5</tspan></text>
<text x="277.5" y="644.5" font-size="33.0" text-anchor="middle">10<tspan font-size="23.0" dy="-12">0</tspan></text>
<text x="1252.5" y="644.5" font-size="33.0" text-anchor="middle">10<tspan font-size="23.0" dy="-12">0</tspan></text>
<text x="552.2" y="644.5" font-size="33.0" text-anchor="middle">10<tspan font-size="23.0" dy="-12">1</tspan></text>
<text x="1527.7" y="644.5" font-size="33.0" text-anchor="middle">10<tspan font-size="23.0" dy="-12">1</tspan></text>
<text x="826.9" y="644.5" font-size="33.0" text-anchor="middle">10<tspan font-size="23.0" dy="-12">2</tspan></text>
<text x="1802.8" y="644.5" font-size="33.0" text-anchor="middle">10<tspan font-size="23.0" dy="-12">2</tspan></text>
<text x="1069.5" y="626.6" font-size="33.0" text-anchor="end">0.0</text>
<text x="1069.5" y="485.7" font-size="33.0" text-anchor="end">0.2</text>
<text x="1069.5" y="344.8" font-size="33.0" text-anchor="end">0.4</text>
<text x="1069.5" y="203.8" font-size="33.0" text-anchor="end">0.6</text>
<text x="1069.5" y="62.9" font-size="33.0" text-anchor="end">0.8</text>
<text x="528.6" y="690.5" font-size="37.0" text-anchor="middle" textLength="164" lengthAdjust="spacingAndGlyphs"><tspan font-style="italic">k</tspan> [<tspan font-style="italic">h</tspan>Mpc<tspan font-size="25" dy="-14">−1</tspan><tspan dy="14">]</tspan></text>
<text x="1504.3" y="690.5" font-size="37.0" text-anchor="middle" textLength="164" lengthAdjust="spacingAndGlyphs"><tspan font-style="italic">k</tspan> [<tspan font-style="italic">h</tspan>Mpc<tspan font-size="25" dy="-14">−1</tspan><tspan dy="14">]</tspan></text>
<text transform="translate(33.5,0) rotate(-90)"><tspan x="-532.5" y="0.0" font-size="37" font-style="italic">k</tspan><tspan x="-513.5" y="-13.5" font-size="25">2</tspan><tspan x="-499.0" y="0.0" font-size="37" font-style="italic">P̃</tspan><tspan x="-476.0" y="5.0" font-size="24">u</tspan><tspan x="-460.0" y="0.0" font-size="37">(</tspan><tspan x="-447.5" y="0.0" font-size="37" font-style="italic">k</tspan><tspan x="-429.5" y="0.0" font-size="37">,</tspan><tspan x="-412.3" y="0.0" font-size="40">Δ</tspan><tspan x="-385.0" y="5.0" font-size="24" font-style="italic">i</tspan><tspan x="-375.0" y="0.0" font-size="37">)</tspan><tspan x="-349.5" y="0.0" font-size="37">[</tspan><tspan x="-340.5" y="0.0" font-size="37" font-style="italic">h</tspan><tspan x="-320.3" y="-10.8" font-size="33">−</tspan><tspan x="-299.8" y="-13.0" font-size="25">1</tspan><tspan x="-286.0" y="0.0" font-size="37">M</tspan><tspan x="-255.8" y="0.0" font-size="37">p</tspan><tspan x="-235.8" y="0.0" font-size="37">c</tspan><tspan x="-219.5" y="0.0" font-size="37">(</tspan><tspan x="-206.8" y="0.0" font-size="37">k</tspan><tspan x="-191.3" y="0.0" font-size="37">m</tspan><tspan x="-161.3" y="0.0" font-size="37">/</tspan><tspan x="-144.5" y="0.0" font-size="37">s</tspan><tspan x="-132.0" y="0.0" font-size="37">)</tspan><tspan x="-116.7" y="-14.5" font-size="25">2</tspan><tspan x="-105.5" y="0.0" font-size="37">]</tspan></text>
<text transform="translate(1012.3,315.5) rotate(-90)" x="0" y="0" font-size="38.5" text-anchor="middle" textLength="124" lengthAdjust="spacingAndGlyphs"><tspan font-style="italic">Q&#771;</tspan>(<tspan font-style="italic">k</tspan>, Δ<tspan font-style="italic" font-size="25" dy="6">i</tspan><tspan dy="-6">)</tspan></text>
<text x="787.5" y="99.3" font-size="43" fill="#E4693A" textLength="120.5" lengthAdjust="spacingAndGlyphs">TNG50</text>
<text x="802.5" y="147.7" font-size="42" fill="#E4693A" font-style="italic">z</text>
<text x="832.3" y="147.7" font-size="42" fill="#E4693A" textLength="27" lengthAdjust="spacingAndGlyphs">=</text>
<text x="871.3" y="147.7" font-size="42" fill="#E4693A">0</text>
<text transform="translate(234.0,318.5) rotate(-40.8)" font-size="40" fill="#808080"><tspan font-style="italic">k</tspan><tspan font-size="28" dx="3.0" dy="-13.0">1.98</tspan></text>
<text transform="translate(292.5,458.5) rotate(-31.0)" font-size="40" fill="#808080"><tspan font-style="italic">k</tspan><tspan font-size="28" dx="3.0" dy="-13.0">1.38</tspan></text>
<text transform="translate(668.5,120.5) rotate(45.0)" font-size="40" fill="#808080"><tspan font-style="italic">k</tspan><tspan font-size="36" dx="5.5" dy="-6.5">−</tspan><tspan font-size="28" dy="-2">2.15</tspan></text>
<text transform="translate(668.5,423.0) rotate(49.0)" font-size="40" fill="#808080"><tspan font-style="italic">k</tspan><tspan font-size="36" dx="5.5" dy="-6.5">−</tspan><tspan font-size="28" dy="-2">2.55</tspan></text>
</svg></body></html>
